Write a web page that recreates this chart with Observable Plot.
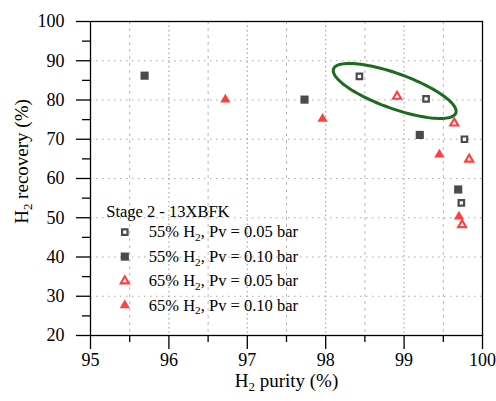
<!DOCTYPE html>
<html><head><meta charset="utf-8">
<script src="https://cdn.jsdelivr.net/npm/d3@7"></script>
<script src="https://cdn.jsdelivr.net/npm/@observablehq/plot@0.6"></script>
<style>html,body{margin:0;padding:0;background:#fff} svg{display:block} svg text{font-family:"Liberation Serif","Times New Roman",serif}</style>
</head><body><div id="chart"></div>
<script>
// ---- data ----
const seriesLabels = ["55% H₂, Pv = 0.05 bar", "55% H₂, Pv = 0.10 bar", "65% H₂, Pv = 0.05 bar", "65% H₂, Pv = 0.10 bar"];
const legendTitle = "Stage 2 - 13XBFK";
const purity55_005 = [98.43, 99.28, 99.77, 99.73];
const recovery55_005 = [86.0, 80.3, 70.0, 53.8];
const purity55_010 = [95.69, 97.73, 99.20, 99.69];
const recovery55_010 = [86.2, 80.1, 71.1, 57.2];
const purity65_005 = [98.91, 99.64, 99.83, 99.74];
const recovery65_005 = [80.9, 74.1, 64.9, 48.2];
const purity65_010 = [96.72, 97.96, 99.45, 99.70];
const recovery65_010 = [80.1, 75.2, 66.1, 50.3];
const xMajorTicks = [95, 96, 97, 98, 99, 100];
const xMinorTicks = [95.5, 96.5, 97.5, 98.5, 99.5];
const yMajorTicks = [20, 30, 40, 50, 60, 70, 80, 90, 100];
const yMinorTicks = [25, 35, 45, 55, 65, 75, 85, 95];
const xGridMajor = [96, 97, 98, 99];
const yGrid = [30, 40, 50, 60, 70, 80, 90];
const xTitle = "H₂ purity (%)";
const yTitle = "H₂ recovery (%)";
// annotation ellipse (center in data units, semi-axes in px, tilt in degrees)
const ellipseCenter = [98.88, 82.3];
const ellipseSemiAxesPx = [65, 17.5];
const ellipseTiltDeg = 19.8;

// ---- layout ----
const W = 496, H = 401, mL = 90, mR = 14, mT = 21, mB = 66;
const xDomain = [95, 100], yDomain = [20, 100];
const font = '"Liberation Serif", "Times New Roman", serif';
const gray = "#4b4b4b", red = "#ff4040", green = "#1c6b1f";

const toPts = (xs, ys) => xs.map((x, i) => ({x, y: ys[i]}));
const s1 = toPts(purity55_005, recovery55_005);
const s2 = toPts(purity55_010, recovery55_010);
const s3 = toPts(purity65_005, recovery65_005);
const s4 = toPts(purity65_010, recovery65_010);

const kx = (W - mL - mR) / (xDomain[1] - xDomain[0]);
const ky = (H - mT - mB) / (yDomain[1] - yDomain[0]);
const th = ellipseTiltDeg * Math.PI / 180;
const ellipsePts = d3.range(0, 121).map(i => {
  const t = i / 120 * 2 * Math.PI;
  const [a, b] = ellipseSemiAxesPx;
  const dx = a * Math.cos(th) * Math.cos(t) - b * Math.sin(th) * Math.sin(t);
  const dy = a * Math.sin(th) * Math.cos(t) + b * Math.cos(th) * Math.sin(t);
  return {x: ellipseCenter[0] + dx / kx, y: ellipseCenter[1] - dy / ky};
});

const styles = [
  {symbol: "square", r: 3.1, stroke: gray, strokeWidth: 2.2, fill: "white"},
  {symbol: "square", r: 4.6, fill: gray, stroke: "none"},
  {symbol: "triangle", r: 3.0, stroke: red, strokeWidth: 2.1, fill: "white"},
  {symbol: "triangle", r: 3.8, fill: red, stroke: "none"}
];

const legendMarks = [
  Plot.text([legendTitle], {text: d => d, frameAnchor: "top-left", dx: 15.7, dy: 190.7, textAnchor: "start", lineAnchor: "middle", fontSize: 16.5, fill: "black"})
];
seriesLabels.forEach((lab, i) => {
  legendMarks.push(Plot.dot([lab], {frameAnchor: "top-left", dx: 34.3, dy: 210.7 + i * 24.4, ...styles[i]}));
  legendMarks.push(Plot.text([lab], {text: d => d, frameAnchor: "top-left", dx: 58.3, dy: 210.7 + i * 24.4, textAnchor: "start", lineAnchor: "middle", fontSize: 16.5, fill: "black"}));
});

const chart = Plot.plot({
  width: W, height: H,
  marginLeft: mL, marginRight: mR, marginTop: mT, marginBottom: mB,
  x: {domain: xDomain},
  y: {domain: yDomain},
  style: {fontFamily: font, background: "white", color: "black"},
  marks: [
    Plot.ruleY(yGrid, {stroke: "#a8a8a8", strokeWidth: 1.2, strokeDasharray: "1.5,4.5"}),
    Plot.ruleX(xGridMajor, {stroke: "#a8a8a8", strokeWidth: 1.2, strokeDasharray: "1.5,3"}),
    Plot.ruleX(xMinorTicks, {stroke: "#b8b8b8", strokeWidth: 1, strokeDasharray: "3,4"}),
    Plot.line(ellipsePts, {x: "x", y: "y", stroke: green, strokeWidth: 3}),
    Plot.dot(s1, {x: "x", y: "y", ...styles[0]}),
    Plot.dot(s2, {x: "x", y: "y", ...styles[1]}),
    Plot.dot(s3, {x: "x", y: "y", ...styles[2]}),
    Plot.dot(s4, {x: "x", y: "y", ...styles[3]}),
    Plot.frame({stroke: "black", strokeWidth: 1.3}),
    Plot.axisX(xMajorTicks, {anchor: "bottom", tickSize: 14, tickPadding: 4, tickFormat: d => String(d), label: null, fontSize: 18, strokeWidth: 1.3}),
    Plot.axisX(xMinorTicks, {anchor: "bottom", tickSize: 7, tickFormat: () => "", label: null, strokeWidth: 1.3}),
    Plot.axisY(yMajorTicks, {anchor: "left", tickSize: 14, tickPadding: 12, tickFormat: d => String(d), label: null, fontSize: 18, strokeWidth: 1.3}),
    Plot.axisY(yMinorTicks, {anchor: "left", tickSize: 8, tickFormat: () => "", label: null, strokeWidth: 1.3}),
    Plot.text([xTitle], {text: d => d, frameAnchor: "bottom", dy: 45, lineAnchor: "middle", fontSize: 19, fill: "black"}),
    Plot.text([yTitle], {text: d => d, frameAnchor: "left", dx: -69, dy: -17, rotate: -90, lineAnchor: "middle", textAnchor: "middle", fontSize: 19, fill: "black"}),
    ...legendMarks
  ]
});
document.getElementById("chart").appendChild(chart);

// subscript rendering for "₂"
chart.querySelectorAll("text, tspan").forEach(el => {
  Array.from(el.childNodes).forEach(node => {
    if (node.nodeType !== 3 || !node.nodeValue.includes("₂")) return;
    const fs = parseFloat(getComputedStyle(el).fontSize) || 16;
    const parts = node.nodeValue.split("₂");
    const frag = document.createDocumentFragment();
    const NS = "http://www.w3.org/2000/svg";
    parts.forEach((p, i) => {
      if (i > 0) {
        const sub = document.createElementNS(NS, "tspan");
        sub.setAttribute("font-size", (fs * 0.68).toFixed(2));
        sub.setAttribute("dy", (fs * 0.22).toFixed(2));
        sub.textContent = "2";
        frag.appendChild(sub);
        const rest = document.createElementNS(NS, "tspan");
        rest.setAttribute("dy", (-fs * 0.22).toFixed(2));
        rest.textContent = p;
        frag.appendChild(rest);
      } else if (p) {
        frag.appendChild(document.createTextNode(p));
      }
    });
    el.replaceChild(frag, node);
  });
});
</script>
</body></html>
